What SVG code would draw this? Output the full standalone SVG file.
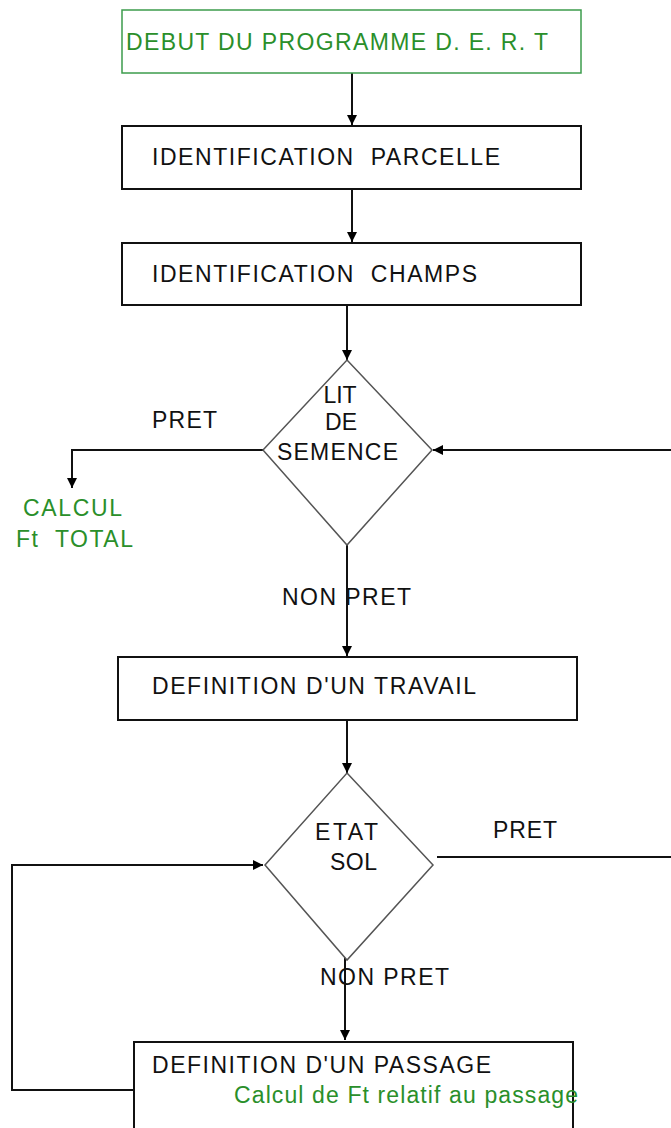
<svg xmlns="http://www.w3.org/2000/svg" width="671" height="1128" viewBox="0 0 671 1128">
<defs>
<marker id="ah" viewBox="0 0 10 10" refX="10" refY="5" markerWidth="5" markerHeight="5" orient="auto-start-reverse" markerUnits="strokeWidth">
<path d="M0,0 L10,5 L0,10 z" fill="#000"/>
</marker>
<style>
text{font-family:"Liberation Sans",Arial,sans-serif;font-size:23px;fill:#111;white-space:pre}
.g{fill:#2a8f2a}
.box{fill:#fff;stroke:#111;stroke-width:2}
.gbox{fill:#fff;stroke:#3c9c4c;stroke-width:1.5}
.dia{fill:#fff;stroke:#555;stroke-width:1.5}
.c{fill:none;stroke:#111;stroke-width:2}
</style>
</defs>
<rect width="671" height="1128" fill="#fff"/>
<g id="connectors">
<line class="c" x1="352" y1="73" x2="352" y2="125" marker-end="url(#ah)"/>
<line class="c" x1="352" y1="189" x2="352" y2="242" marker-end="url(#ah)"/>
<line class="c" x1="347" y1="305" x2="347" y2="360" marker-end="url(#ah)"/>
<polyline class="c" points="263,450 72,450 72,488" marker-end="url(#ah)"/>
<line class="c" x1="671" y1="450" x2="433" y2="450" marker-end="url(#ah)"/>
<line class="c" x1="347" y1="535" x2="347" y2="656" marker-end="url(#ah)"/>
<line class="c" x1="347" y1="720" x2="347" y2="773" marker-end="url(#ah)"/>
<line class="c" x1="437" y1="857" x2="671" y2="857"/>
<polyline class="c" points="134,1090 12,1090 12,865 263,865" marker-end="url(#ah)"/>
<line class="c" x1="345" y1="950" x2="345" y2="1040" marker-end="url(#ah)"/>
</g>
<g id="n-debut">
<rect class="gbox" x="122" y="10" width="459" height="63"/>
<text class="g" x="126" y="50" textLength="422">DEBUT DU PROGRAMME D. E. R. T</text>
</g>
<g id="n-parcelle">
<rect class="box" x="122" y="126" width="459" height="63"/>
<text x="152" y="165" textLength="348">IDENTIFICATION  PARCELLE</text>
</g>
<g id="n-champs">
<rect class="box" x="122" y="243" width="459" height="62"/>
<text x="152" y="282" textLength="325">IDENTIFICATION  CHAMPS</text>
</g>
<g id="n-lit">
<polygon class="dia" points="347,360 432,450 347,545 263,450"/>
<text x="340" y="403" text-anchor="middle">LIT</text>
<text x="341" y="430" text-anchor="middle">DE</text>
<text x="277" y="460" textLength="121">SEMENCE</text>
</g>
<g id="l-pret1"><text x="152" y="428" textLength="65">PRET</text></g>
<g id="n-calcul">
<text class="g" x="23" y="516" textLength="99">CALCUL</text>
<text class="g" x="16" y="547" textLength="117">Ft  TOTAL</text>
</g>
<g id="l-nonpret1"><text x="282" y="605" textLength="129">NON PRET</text></g>
<g id="n-travail">
<rect class="box" x="118" y="657" width="459" height="63"/>
<text x="152" y="694" textLength="324">DEFINITION D'UN TRAVAIL</text>
</g>
<g id="n-etat">
<polygon class="dia" points="347,773 433,865 347,960 265,865"/>
<text x="315" y="840" textLength="63">ETAT</text>
<text x="330" y="870" textLength="47">SOL</text>
</g>
<g id="l-pret2"><text x="493" y="838" textLength="64">PRET</text></g>
<g id="l-nonpret2"><text x="320" y="985" textLength="129">NON PRET</text></g>
<g id="n-passage">
<rect class="box" x="134" y="1042" width="439" height="100"/>
<text x="152" y="1073" textLength="339">DEFINITION D'UN PASSAGE</text>
<text class="g" x="234" y="1103" textLength="344">Calcul de Ft relatif au passage</text>
</g>
</svg>
